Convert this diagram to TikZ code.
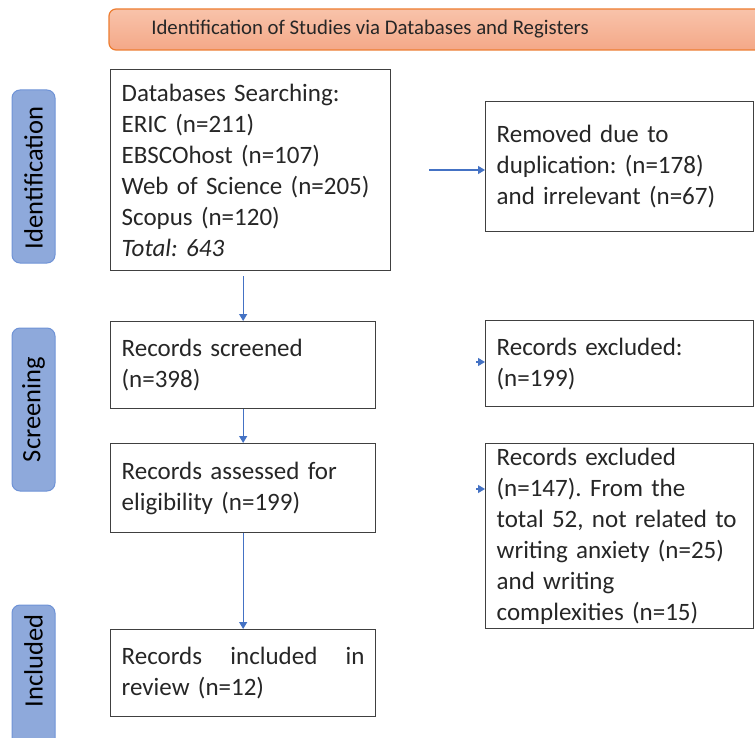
\documentclass[tikz,border=0pt]{standalone}
\usepackage{fontspec}
\setmainfont{Carlito}
\usetikzlibrary{arrows.meta,positioning}
\definecolor{txt}{HTML}{262626}
\definecolor{boxln}{HTML}{404040}
\definecolor{arrc}{HTML}{4472C4}
\definecolor{sidefill}{HTML}{8EA9DB}
\definecolor{sideln}{HTML}{6F93D6}
\definecolor{headtop}{HTML}{F8C3AA}
\definecolor{headbot}{HTML}{F4A888}
\definecolor{headln}{HTML}{ED7D31}
\newcommand\mybodyfont{\fontsize{25}{31}\selectfont\frenchspacing\hyphenpenalty=10000\relax\exhyphenpenalty=10000\relax}
\tikzset{
  body/.style={draw=boxln, line width=1.3pt, text=txt, anchor=north west, inner xsep=11pt, inner ysep=0pt,
    align=left, font=\mybodyfont},
  side/.style={draw=sideln, fill=sidefill, line width=1pt, rounded corners=8pt},
  sidetxt/.style={rotate=90, text=black, font=\fontsize{26.5}{30}\selectfont},
  arr/.style={draw=arrc, line width=1.2pt, -{Triangle[length=7pt,width=8pt]}},
}
\begin{document}
\begin{tikzpicture}[x=1pt,y=-1pt]
\useasboundingbox (0,0) rectangle (755,738);
\clip (0,0) rectangle (755,738);
% header
\draw[headln, line width=1.2pt, top color=headtop, bottom color=headbot, rounded corners=7pt] (109,9) rectangle (775,50);
\node[text=txt, font=\fontsize{20.8}{24}\selectfont] (head) at (370,29.5) {Identification of Studies via Databases and Registers};
% side bars
\draw[side] (12,90) rectangle (55,263);
\node[sidetxt] (sid) at (33.5,178) {Identification};
\draw[side] (12,328) rectangle (55,491);
\node[sidetxt] (ssc) at (33.5,409.5) {Screening};
\draw[side] (12,605) rectangle (55,760);
\node[sidetxt] (sin) at (33.5,661) {Included};
% boxes
\node[body, text width=258pt, minimum width=280pt, minimum height=201pt] (b1) at (110,69)
  {Databases Searching:\\ERIC (n=211)\\EBSCOhost (n=107)\\Web of Science (n=205)\\Scopus (n=120)\\\textit{Total: 643}};
\node[body, text width=246pt, minimum width=268pt, minimum height=130pt] (r1) at (485,101)
  {Removed due to\\duplication: (n=178)\\and irrelevant (n=67)};
\node[body, text width=243pt, minimum width=265pt, minimum height=87pt] (b2) at (110,321)
  {Records screened\\(n=398)};
\node[body, text width=246pt, minimum width=268pt, minimum height=86pt] (r2) at (485,320)
  {Records excluded:\\(n=199)};
\node[body, text width=243pt, minimum width=265pt, minimum height=89pt] (b3) at (110,443)
  {Records assessed for\\eligibility (n=199)};
\node[body, text width=246pt, minimum width=268pt, minimum height=185pt] (r3) at (485,443)
  {Records excluded\\(n=147). From the\\total 52, not related to\\writing anxiety (n=25)\\and writing\\complexities (n=15)};
\node[body, text width=243pt, minimum width=265pt, minimum height=87pt] (b4) at (110,629)
  {Records\hfill included\hfill in\\review (n=12)};
% arrows
\coordinate (a1) at (429,170);
\draw[arr] (a1) -- (r1.west |- a1);
\coordinate (a2) at (476,362);
\draw[arr] (a2) -- (r2.west |- a2);
\coordinate (a3) at (476,489);
\draw[arr] (a3) -- (r3.west |- a3);
\draw[arr] ([yshift=-5pt]b2.north |- b1.south) -- (b2.north);
\draw[arr] (b2.south) -- (b3.north);
\draw[arr] (b3.south) -- (b4.north);
\end{tikzpicture}
\end{document}
